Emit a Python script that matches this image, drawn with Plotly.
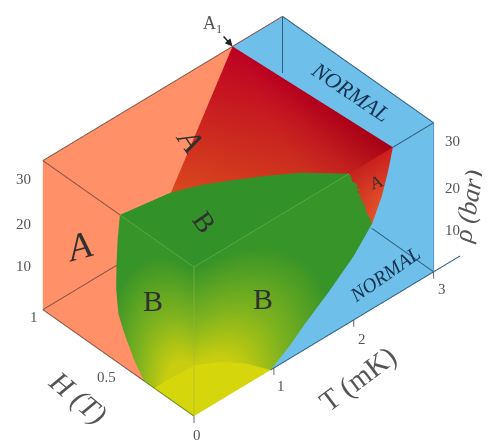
import numpy as np
import plotly.graph_objects as go

# phase boundaries
# H=0 wall: B phase limit, T (mK) against P (bar)
wall_p = [0, 3, 6, 10, 15, 20, 26.7, 31, 35]
wall_t = [0.96, 1.2, 1.39, 1.68, 2.0, 2.23, 2.14, 2.05, 1.94]
# H=0 wall: superfluid onset
tc_p = [0, 3, 6, 10, 15, 20, 25, 30, 35]
tc_t = [0.96, 1.2, 1.39, 1.68, 2.0, 2.23, 2.35, 2.43, 2.49]
# T=0 wall: A/B field against P
ab_p = [0, 3.2, 7.8, 11.5, 17, 22.6, 29, 35]
ab_h = [0.33, 0.395, 0.46, 0.5, 0.515, 0.513, 0.505, 0.49]
# top (P=35): A/B line
top_t = [0, 0.19, 0.56, 0.85, 1.08, 1.35, 1.62, 1.94]
top_h = [0.49, 0.49, 0.448, 0.39, 0.326, 0.245, 0.154, 0]
# yellow patch, on both walls
yel_t = [0.96, 0.65, 0.33, 0]
yel_tp = [0, 5, 9, 11.9]
yel_h = [0, 0.11, 0.2, 0.263]
yel_hp = [11.9, 7, 3, 0]

P_TOP = 35
T_MAX = 3
T_AXIS_END = 3.33
A1_T, A1_H = 2.375, 1
P_TICKS = [10, 20, 30]
T_TICKS = [0, 1, 2, 3]

SALMON = "#ff9068"
BLUE = "#6ec0ea"
GREEN = "rgb(50,145,40)"
YELLOW = "rgb(214,214,12)"
BROWN = "#85544a"
NAVY = "#2f5f80"

# the page body keeps an 8px margin, so the figure is 16px short of the window
FIG_W, FIG_H = 482, 436
PAGE_MARGIN = 8

# view direction and box proportions worked out from the box corners
EYE = np.array([-0.515, -0.557, 0.651])
UNIT = np.array([1 / 3, 0.682, 0.602 / 35])
T_RANGE = [-3, 6]
H_RANGE = [-3, 4]
P_RANGE = [-90, 125]
DIST = 5.0
ZOOM = 1.497  # orthographic scenes zoom through the aspect ratio, not the eye
CENTER = np.array([0.0165, -0.0549, -0.0341])


def lift(t, h, p, k):
    # slide along the line of sight so the line stays on top of the walls
    return (np.array(t, float) + EYE[0] * k / UNIT[0],
            np.array(h, float) + EYE[1] * k / UNIT[1],
            np.array(p, float) + EYE[2] * k / UNIT[2])


def poly(t, h, p, color=None, vertexcolor=None):
    n = len(t)
    return go.Mesh3d(x=t, y=h, z=p, i=[0] * (n - 2), j=list(range(1, n - 1)), k=list(range(2, n)),
                     color=color, vertexcolor=vertexcolor, flatshading=True,
                     lighting=dict(ambient=1, diffuse=0, specular=0, roughness=1, fresnel=0),
                     hoverinfo="skip", showscale=False)


def edge(t, h, p, color, width=2, k=1.0):
    x, y, z = lift(t, h, p, k)
    return go.Scatter3d(x=x, y=y, z=z, mode="lines", line=dict(color=color, width=width),
                        hoverinfo="skip", showlegend=False)


GRADIENT = [[0, "rgb(200,205,15)"], [0.42, "rgb(130,180,30)"], [1, "rgb(55,148,40)"]]
FLAT = dict(ambient=1, diffuse=0, specular=0, roughness=1, fresnel=0)
H_FADE, T_FADE = 0.2, 0.6
fig = go.Figure()

# T=0 wall
fig.add_trace(poly([0] * (len(ab_h) + 2), [1, 1] + ab_h[::-1], [0, P_TOP] + ab_p[::-1], color=SALMON))
s = np.linspace(0, 1, 30)
hh = np.outer(ab_h, s)
pp = np.outer(ab_p, np.ones_like(s))
fig.add_trace(go.Surface(x=np.zeros_like(hh), y=hh, z=pp,
                         surfacecolor=np.hypot(hh / H_FADE, pp / yel_hp[0]),
                         colorscale=GRADIENT, cmin=1, cmax=2.9, showscale=False,
                         lighting=FLAT, hoverinfo="skip"))
# H=0 wall
fig.add_trace(poly([T_MAX, T_MAX] + tc_t[::-1], [0] * (len(tc_t) + 2), [0, P_TOP] + tc_p[::-1], color=BLUE))
fig.add_trace(poly([1.94, 2.49, 2.43, 2.35, 2.23, 2.14],
                   [0] * 6, [35, 35, 30, 25, 20, 26.7],
                   vertexcolor=["rgb(195,35,30)", "rgb(205,30,30)", "rgb(215,50,35)", "rgb(225,75,40)",
                                "rgb(230,80,40)", "rgb(225,75,40)"]))
tt = np.outer(wall_t, s)
pp = np.outer(wall_p, np.ones_like(s))
fig.add_trace(go.Surface(x=tt, y=np.zeros_like(tt), z=pp,
                         surfacecolor=np.hypot(tt / T_FADE, pp / yel_tp[-1]),
                         colorscale=GRADIENT, cmin=1, cmax=2.9, showscale=False,
                         lighting=FLAT, hoverinfo="skip"))
# yellow patch in the corner, a hair in front of the walls
x, y, z = lift([0] + yel_t + [0] * 4, [0] * 5 + yel_h, [0] + yel_tp + yel_hp, 0.01)
fig.add_trace(poly(x, y, z, color=YELLOW))

# top face
fig.add_trace(poly([T_MAX, T_MAX, A1_T, 2.49], [0, 1, A1_H, 0], [P_TOP] * 4, color=BLUE))
fig.add_trace(poly([0, 0, A1_T, 0.56, 0.19], [top_h[0], 1, A1_H, 0.448, 0.49], [P_TOP] * 5, color=SALMON))
fig.add_trace(poly([0, 0] + top_t[1:], [0, top_h[0]] + top_h[1:], [P_TOP] * (len(top_t) + 1), color=GREEN))
fig.add_trace(poly([A1_T, 2.43, 2.49, 1.94, 1.62, 1.35, 1.08, 0.85, 0.56],
                   [A1_H, 0.5, 0, 0, 0.154, 0.245, 0.326, 0.39, 0.448], [P_TOP] * 9,
                   vertexcolor=["rgb(190,0,35)", "rgb(170,0,25)", "rgb(165,0,20)", "rgb(195,35,30)",
                                "rgb(205,50,30)", "rgb(208,55,30)", "rgb(210,60,30)", "rgb(214,66,30)",
                                "rgb(218,72,30)"]))

# box edges
fig.add_trace(edge([0, T_MAX], [1, 1], [P_TOP, P_TOP], BROWN, 2))
fig.add_trace(edge([T_MAX, T_MAX], [1, 0], [P_TOP, P_TOP], NAVY, 2))
fig.add_trace(edge([T_MAX, T_MAX], [0, 0], [0, P_TOP], "#5a9cc8", 2))
fig.add_trace(edge([2.49, T_MAX], [0, 0], [P_TOP, P_TOP], NAVY, 2))
fig.add_trace(edge([0, 0], [1, 0.49], [P_TOP, P_TOP], BROWN, 2))
fig.add_trace(edge([0, 0], [1, 0.33], [0, 0], BROWN, 2))
fig.add_trace(edge([0, 0], [0.33, 0], [0, 0], "#6f8a20", 2))
fig.add_trace(edge([0, 0.92], [1, 1], [0, 0], BROWN, 2))
fig.add_trace(edge([T_MAX, T_MAX], [1, 1], [P_TOP, 21.7], NAVY, 2))
fig.add_trace(edge([T_MAX, T_MAX], [0, 0.41], [0, 0], NAVY, 2))
fig.add_trace(edge([0.96, T_AXIS_END], [0, 0], [0, 0], NAVY, 2))
# faint edges running through the green
fig.add_trace(edge([0, 0], [0, 0], [0, P_TOP], "#9fb83c", 1))
fig.add_trace(edge([0, 0], [0.49, 0], [P_TOP, P_TOP], "#6fb552", 1))
fig.add_trace(edge([0, 1.94], [0, 0], [P_TOP, P_TOP], "#6fb552", 1))
for v in T_TICKS:
    fig.add_trace(edge([v, v], [0, 0], [0, -1.6], "#666666", 2))

# tick dots
fig.add_trace(go.Scatter3d(x=[0.03] * 3, y=[1] * 3, z=P_TICKS, mode="markers",
                           marker=dict(size=2, color="#5a1a12"), hoverinfo="skip"))
fig.add_trace(go.Scatter3d(x=[T_MAX] * 3, y=[0.03] * 3, z=P_TICKS, mode="markers",
                           marker=dict(size=2, color="#123a66"), hoverinfo="skip"))

GREY = "#555555"
DARK = "#303030"
SERIF = "Liberation Serif"


def note(t, h, p, text, size=15, color=GREY, angle=0, dx=0, dy=0, italic=False):
    if italic:
        text = f"<i>{text}</i>"
    return dict(x=t, y=h, z=p, text=text, showarrow=False, textangle=angle, xshift=dx, yshift=dy,
                font=dict(family=SERIF, size=size, color=color))


def side_label(px, py, text, size, angle):
    fig.add_annotation(x=(px - PAGE_MARGIN) / FIG_W, y=1 - (py - PAGE_MARGIN) / FIG_H,
                       xref="paper", yref="paper", text=text,
                       xanchor="center", yanchor="middle", showarrow=False, textangle=angle,
                       font=dict(family=SERIF, size=size, color=GREY))


notes = []
for v, ly, ry in zip(P_TICKS, [1, 1, 3], [-1, -1, 3]):
    notes.append(note(0, 1, v, str(v), dx=-19, dy=ly))
    notes.append(note(T_MAX, 0, v, str(v), dx=19, dy=ry))
notes += [
    note(0, 1, 0, "1", dx=-9, dy=-7),
    note(0, 0.5, 0, "0.5", dx=-12, dy=-14),
    note(0, 0, 0, "0", dx=3, dy=-19),
    note(1, 0, 0, "1", dx=7, dy=-18),
    note(2, 0, 0, "2", dx=8, dy=-19),
    note(3, 0, 0, "3", dx=8, dy=-17),
    note(0, 0.743, 20.6, "A", size=38, color=DARK, angle=-15, italic=True, dx=-3, dy=3),
    note(0, 0.27, 19.6, "B", size=30, color=DARK, dy=3),
    note(0.859, 0, 17.1, "B", size=30, color=DARK, dy=3),
    note(2.29, 0, 29, "A", size=18, color=DARK, angle=-20),
    note(2.39, 0, 6.4, "NORMAL", size=20, color="#14324f", angle=-35, italic=True),
    note(1.2, 0.654, P_TOP, "A", size=32, color=DARK, angle=55, italic=True),
    note(0.503, 0.193, P_TOP, "B", size=28, color=DARK, angle=55),
    note(2.77, 0.431, P_TOP, "NORMAL", size=22, color="#14324f", angle=34, italic=True, dy=-4),
]
notes.append(dict(x=A1_T, y=A1_H, z=P_TOP, text="A<sub>1</sub>", ax=-20, ay=-22, showarrow=True,
                  arrowhead=2, arrowsize=1, arrowwidth=1.5, arrowcolor="#222222",
                  font=dict(family=SERIF, size=18, color=GREY)))

side_label(78, 397, "<i>H (T)</i>", 29, 40)
side_label(357, 379, "T (mK)", 29, -37)
side_label(468, 207, "<i>ρ (bar)</i>", 26, -80)

hidden = dict(visible=False)
eye = EYE * DIST + CENTER
fig.update_layout(
    width=FIG_W, height=FIG_H, margin=dict(l=0, r=0, t=0, b=0),
    paper_bgcolor="white", showlegend=False,
    scene=dict(
        domain=dict(x=[0, 1], y=[0, 1]),
        xaxis=dict(range=T_RANGE, **hidden),
        yaxis=dict(range=H_RANGE, **hidden),
        zaxis=dict(range=P_RANGE, **hidden),
        aspectmode="manual",
        aspectratio=dict(x=(T_RANGE[1] - T_RANGE[0]) * UNIT[0] * ZOOM,
                         y=(H_RANGE[1] - H_RANGE[0]) * UNIT[1] * ZOOM,
                         z=(P_RANGE[1] - P_RANGE[0]) * UNIT[2] * ZOOM),
        camera=dict(projection=dict(type="orthographic"),
                    center=dict(x=CENTER[0], y=CENTER[1], z=CENTER[2]),
                    eye=dict(x=eye[0], y=eye[1], z=eye[2]),
                    up=dict(x=0, y=0, z=1)),
        annotations=notes,
    ),
)
fig.write_html("out.html")
